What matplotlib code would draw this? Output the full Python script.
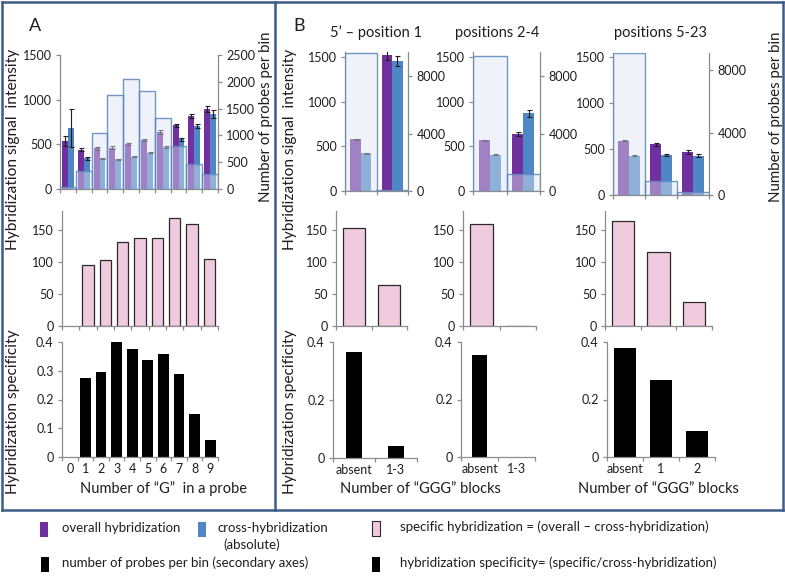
import numpy as np
import matplotlib
matplotlib.use('Agg')
import matplotlib.pyplot as plt
from matplotlib.patches import Rectangle
from matplotlib.lines import Line2D

plt.rcParams['font.family'] = ['Lato', 'DejaVu Sans']

W, H = 785, 577

# ---- data: panel A (number of G in a probe) ----
g_labels = ['0', '1', '2', '3', '4', '5', '6', '7', '8', '9']
overall_A = [535, 440, 455, 462, 500, 549, 641, 713, 817, 892]
overall_A_err = [55, 18, 14, 14, 12, 10, 25, 15, 22, 35]
cross_A = [680, 345, 343, 332, 362, 406, 467, 556, 705, 840]
cross_A_err = [210, 15, 7, 6, 5, 6, 10, 15, 25, 40]
probes_A = [40, 340, 1040, 1750, 2050, 1830, 1320, 810, 470, 275]
specific_A = [np.nan, 96, 104, 132, 137, 137, 169, 160, 105]
specificity_A = [np.nan, 0.276, 0.297, 0.399, 0.375, 0.336, 0.358, 0.288, 0.148, 0.060]

# ---- data: panel B (GGG blocks by position) ----
b_titles = ['5\u2019 \u2013 position 1', 'positions 2-4', 'positions 5-23']
b_cats = [['absent', '1-3'], ['absent', '1-3'], ['absent', '1', '2']]
overall_B = [[580, 1525], [567, 641], [592, 550, 468]]
overall_B_err = [[8, 60], [6, 20], [6, 18, 18]]
cross_B = [[425, 1459], [408, 871], [427, 432, 428]]
cross_B_err = [[5, 55], [4, 35], [4, 12, 15]]
probes_B = [[9600, 100], [9400, 1200], [9100, 920, 175]]
specific_B = [[154, 63.5], [160, 0.6], [164, 116, 37.5]]
specificity_B = [[0.367, 0.042], [0.354, -0.002], [0.378, 0.269, 0.089]]

PURPLE = '#7030a0'
BLUE = '#4f86c6'
PINK = '#f0cbe0'
BOXFACE = '#dce6f2'
BOXEDGE = '#5a86c0'
AXC = '#8c8c8c'
TXT = '#1e1e1e'
BORDER = '#3d5c88'
TS = 9

fig = plt.figure(figsize=(W / 100, H / 100), dpi=100)


def add_ax(x0, y0, x1, y1):
    return fig.add_axes([x0 / W, 1 - y1 / H, (x1 - x0) / W, (y1 - y0) / H])


def style(ax, n, labels=None):
    for s in ['top', 'right']:
        ax.spines[s].set_visible(False)
    for s in ['left', 'bottom']:
        ax.spines[s].set_color(AXC)
        ax.spines[s].set_linewidth(0.9)
    ax.set_xlim(-0.5, n - 0.5)
    ax.set_xticks(np.arange(n + 1) - 0.5)
    ax.set_xticklabels([])
    ax.tick_params(axis='both', colors=AXC, labelcolor=TXT, length=3, width=0.9,
                   labelsize=TS, pad=2)
    ax.tick_params(axis='y', pad=3)
    if labels is not None:
        ax.set_xticks(np.arange(n), minor=True)
        ax.set_xticklabels(labels, minor=True)
        ax.tick_params(axis='x', which='minor', length=0, labelsize=TS, labelcolor=TXT, pad=4)
    ax.patch.set_alpha(0)


def top_chart(rect, overall, oerr, cross, cerr, probes, ylim, y2lim, yticks, y2ticks, bw):
    ax = add_ax(*rect)
    n = len(overall)
    style(ax, n)
    x = np.arange(n)
    ax.bar(x - bw / 2, overall, bw, color=PURPLE, zorder=2)
    ax.bar(x + bw / 2, cross, bw, color=BLUE, zorder=2)
    ek = dict(fmt='none', ecolor=TXT, elinewidth=0.8, capsize=1.8, capthick=0.8, zorder=3)
    ax.errorbar(x - bw / 2, overall, yerr=oerr, **ek)
    ax.errorbar(x + bw / 2, cross, yerr=cerr, **ek)
    ax.set_ylim(*ylim)
    ax.set_yticks(yticks)
    ax2 = ax.twinx()
    for s in ['top', 'left', 'bottom']:
        ax2.spines[s].set_visible(False)
    ax2.spines['right'].set_color(AXC)
    ax2.spines['right'].set_linewidth(0.9)
    ax2.bar(x, probes, 1.0, facecolor=BOXFACE, alpha=0.45, zorder=2)
    ax2.bar(x, probes, 1.0, facecolor='none', edgecolor=BOXEDGE, linewidth=1.0, alpha=0.85, zorder=3)
    ax2.set_ylim(*y2lim)
    ax2.set_yticks(y2ticks)
    ax2.tick_params(axis='y', colors=AXC, labelcolor=TXT, length=3, width=0.9, labelsize=TS, pad=3)
    return ax


def pink_chart(rect, vals, bw):
    ax = add_ax(*rect)
    n = len(vals)
    style(ax, n)
    ax.bar(np.arange(n), vals, bw, color=PINK, edgecolor='#2a2a2a', linewidth=0.9, zorder=2)
    ax.set_ylim(0, 180)
    ax.set_yticks([0, 50, 100, 150])
    return ax


def black_chart(rect, vals, labels, bw):
    ax = add_ax(*rect)
    n = len(vals)
    style(ax, n, labels)
    ax.bar(np.arange(n), vals, bw, color='black', zorder=2)
    ax.set_ylim(0, 0.4)
    return ax


# ---- panel A ----
top_chart((60, 55, 218, 189), overall_A, overall_A_err, cross_A, cross_A_err, probes_A,
          (0, 1500), (0, 2500), [0, 500, 1000, 1500], [0, 500, 1000, 1500, 2000, 2500], 0.37)
pink_chart((62, 211, 218, 326), specific_A, 0.66)
axA3 = black_chart((62, 342, 218, 457), specificity_A, g_labels, 0.7)
axA3.set_yticks([0, 0.1, 0.2, 0.3, 0.4])
axA3.set_yticklabels(['0', '0.1', '0.2', '0.3', '0.4'])

# ---- panel B ----
b_top = [(345, 52, 408, 191), (473, 52, 540, 191), (613, 53, 709, 195)]
b_mid = [(336, 211, 407, 326), (463, 211, 536, 326), (605, 211, 712, 326)]
b_bot = [(333, 342, 417, 458), (461, 342, 535, 457), (607, 342, 715, 457)]
b_ylim = [(0, 1560), (0, 1560), (0, 1545)]
b_y2lim = [(0, 9700), (0, 9700), (0, 9100)]
b_pink_w = [0.63, 0.62, 0.62]
b_black_w = [0.39, 0.43, 0.6]
for i in range(3):
    top_chart(b_top[i], overall_B[i], overall_B_err[i], cross_B[i], cross_B_err[i], probes_B[i],
              b_ylim[i], b_y2lim[i], [0, 500, 1000, 1500], [0, 4000, 8000], 0.33)
    pink_chart(b_mid[i], specific_B[i], b_pink_w[i])
    ax = black_chart(b_bot[i], specificity_B[i], b_cats[i], b_black_w[i])
    ax.set_yticks([0, 0.2, 0.4])
    ax.set_yticklabels(['0', '0.2', '0.4'])

title_x = [376, 497, 661]
for t, xc in zip(b_titles, title_x):
    fig.text(xc / W, 1 - 33 / H, t, ha='center', va='center', fontsize=10.5, color=TXT)

# ---- labels ----
fig.text(35 / W, 1 - 26 / H, 'A', ha='center', va='center', fontsize=13, color=TXT)
fig.text(299 / W, 1 - 26 / H, 'B', ha='center', va='center', fontsize=13, color=TXT)
for xl in (13, 290):
    fig.text(xl / W, 1 - 149 / H, 'Hybridization signal  intensity', rotation=90,
             ha='center', va='center', fontsize=11.2, color=TXT)
    fig.text(xl / W, 1 - 412 / H, 'Hybridization specificity', rotation=90,
             ha='center', va='center', fontsize=11.2, color=TXT)
for xl in (266, 776):
    fig.text(xl / W, 1 - 117 / H, 'Number of probes per bin', rotation=90,
             ha='center', va='center', fontsize=10.8, color=TXT)
fig.text(163 / W, 1 - 489 / H, 'Number of \u201cG\u201d  in a probe', ha='center', va='center',
         fontsize=10.5, color=TXT)
fig.text(420 / W, 1 - 489 / H, 'Number of \u201cGGG\u201d blocks', ha='center', va='center',
         fontsize=10.5, color=TXT)
fig.text(658 / W, 1 - 489 / H, 'Number of \u201cGGG\u201d blocks', ha='center', va='center',
         fontsize=10.5, color=TXT)

# ---- panel borders ----
for (xa, ya, xb, yb) in [(2, 2, 783, 2), (2, 510, 783, 510), (2, 2, 2, 510),
                         (783, 2, 783, 510), (275, 2, 275, 510)]:
    fig.add_artist(Line2D([xa / W, xb / W], [1 - ya / H, 1 - yb / H], color=BORDER,
                          linewidth=1.8, transform=fig.transFigure))

# ---- legend ----
leg_items = [
    (40, 522, PURPLE, 'none', 'overall hybridization', 62),
    (198, 522, BLUE, 'none', 'cross-hybridization', 218),
    (372, 521, PINK, '#2a2a2a', 'specific hybridization = (overall \u2013 cross-hybridization)', 400),
    (41, 557, 'black', 'none', 'number of probes per bin (secondary axes)', 62),
    (372, 557, 'black', 'none', 'hybridization specificity= (specific/cross-hybridization)', 400),
]
for (xs, ys, fc, ec, label, xt) in leg_items:
    fig.add_artist(Rectangle((xs / W, 1 - (ys + 15) / H), 8 / W, 15 / H, facecolor=fc,
                             edgecolor=ec, linewidth=0.8, transform=fig.transFigure))
    fig.text(xt / W, 1 - (ys + 6) / H, label, ha='left', va='center', fontsize=9.5, color=TXT)
fig.text(223 / W, 1 - 545 / H, '(absolute)', ha='left', va='center', fontsize=9.5, color=TXT)

fig.savefig('out.png', dpi=100)
